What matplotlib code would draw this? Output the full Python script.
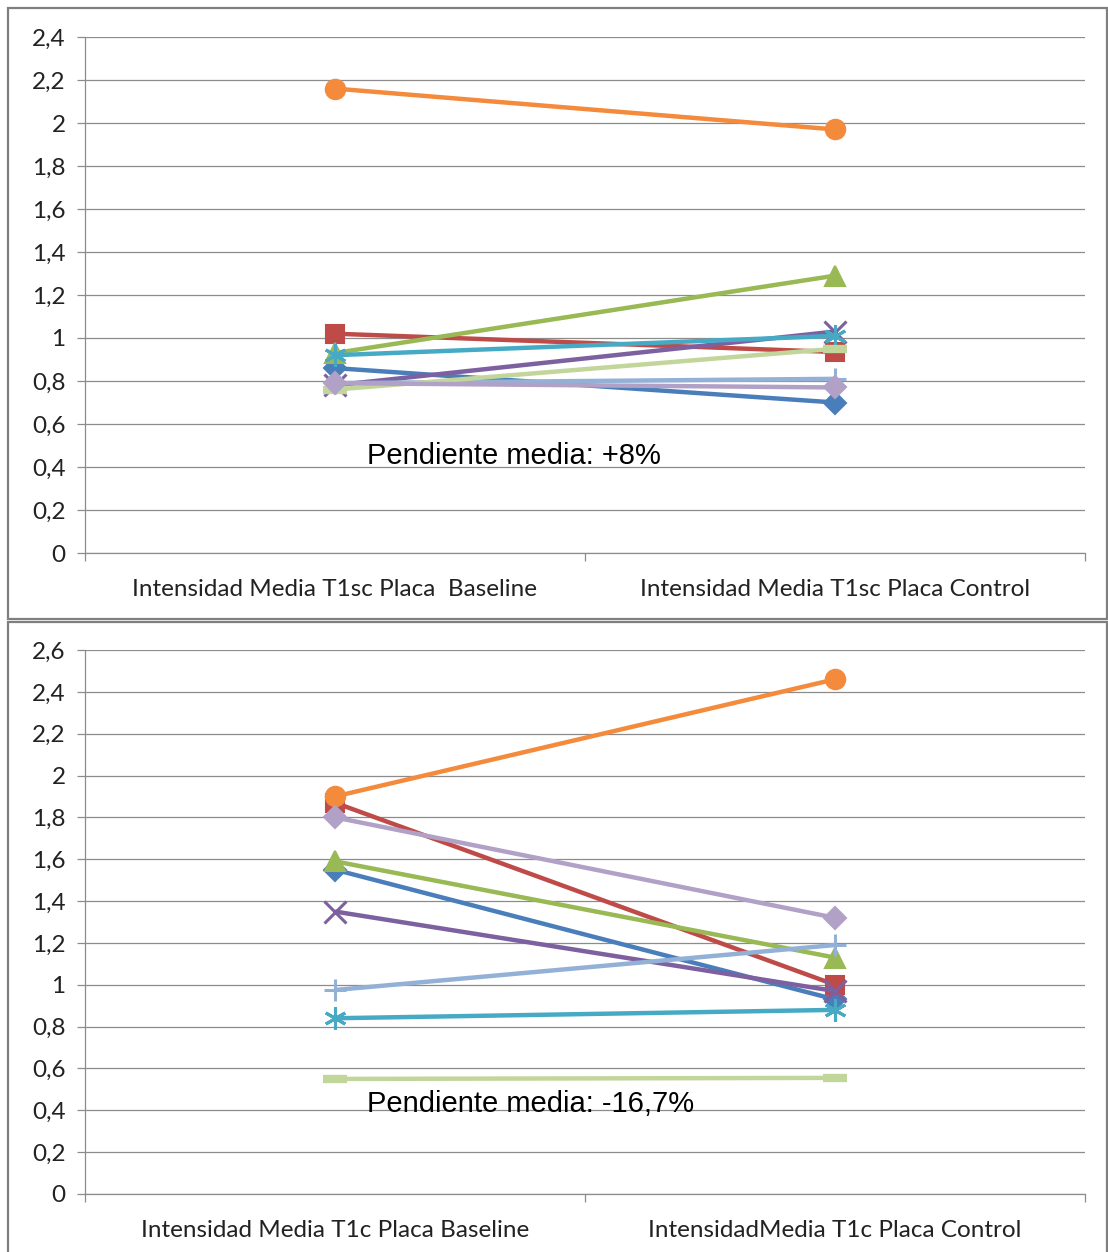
import matplotlib
matplotlib.use("Agg")
import matplotlib.pyplot as plt
from matplotlib.patches import Rectangle
from matplotlib.ticker import FuncFormatter, FixedLocator, MultipleLocator

# Series styling (Excel-like palette and marker sequence)
series_colors = ["#4A7EBB", "#BE4B48", "#98B954", "#7D60A0", "#46AAC5",
                 "#F38A3C", "#93B1D6", "#C2D59A", "#B2A1C7"]
series_markers = ["D", "s", "^", "x", (6, 2, 0), "o", "+", "_", "D"]

# Top chart: T1sc
top_categories = ["Intensidad Media T1sc Placa  Baseline", "Intensidad Media T1sc Placa Control"]
top_baseline = [0.86, 1.02, 0.93, 0.78, 0.92, 2.16, 0.79, 0.76, 0.79]
top_control = [0.70, 0.935, 1.29, 1.03, 1.01, 1.97, 0.81, 0.95, 0.77]
top_note = "Pendiente media: +8%"

# Bottom chart: T1c
bot_categories = ["Intensidad Media T1c Placa Baseline", "IntensidadMedia T1c Placa Control"]
bot_baseline = [1.55, 1.87, 1.59, 1.35, 0.84, 1.90, 0.975, 0.55, 1.80]
bot_control = [0.93, 1.00, 1.13, 0.97, 0.88, 2.46, 1.19, 0.555, 1.32]
bot_note = "Pendiente media: -16,7%"

W, H = 1108, 1252
fig = plt.figure(figsize=(W / 100, H / 100), dpi=100)
fig.patch.set_facecolor("white")

tick_font = "Lato"
grid_color = "#8C8C8C"


def comma_fmt(v, pos):
    s = ("%.1f" % v).rstrip("0").rstrip(".")
    return s.replace(".", ",")


def draw_panel(rect, cats, base, ctrl, ymax, note, note_y):
    ax = fig.add_axes(rect)
    ax.set_xlim(-0.5, 1.5)
    ax.set_ylim(0, ymax)
    for i in range(len(base)):
        mk = series_markers[i]
        ms = 14
        mew = 1.5
        if mk in ("x", "+") or isinstance(mk, tuple):
            ms = 16
            mew = 2.2
        if mk == "_":
            ms = 17
            mew = 6
        if mk == "D":
            ms = 11
        if mk == "s":
            ms = 13
        ax.plot([0, 1], [base[i], ctrl[i]], color=series_colors[i], lw=3.2,
                marker=mk, markersize=ms, markeredgewidth=mew,
                markerfacecolor=series_colors[i], markeredgecolor=series_colors[i],
                solid_capstyle="butt", zorder=3 + i * 0.01)
    ax.yaxis.set_major_locator(MultipleLocator(0.2))
    ax.yaxis.set_major_formatter(FuncFormatter(comma_fmt))
    ax.grid(axis="y", color=grid_color, lw=0.9)
    ax.set_axisbelow(True)
    for s in ["top", "right"]:
        ax.spines[s].set_visible(False)
    for s in ["left", "bottom"]:
        ax.spines[s].set_color(grid_color)
        ax.spines[s].set_linewidth(0.9)
    ax.set_xticks([0, 1])
    ax.set_xticklabels(cats, fontsize=17.5, family=tick_font, color="#222222")
    ax.xaxis.set_minor_locator(FixedLocator([-0.5, 0.5, 1.5]))
    ax.tick_params(axis="x", which="major", length=0, pad=19)
    ax.tick_params(axis="x", which="minor", length=6, color=grid_color, width=0.9)
    ax.tick_params(axis="y", length=6, color=grid_color, width=0.9,
                   labelsize=17.5, labelcolor="#222222", pad=8)
    for lab in ax.get_yticklabels():
        lab.set_family(tick_font)
    ax.text(0.064, note_y, note, fontsize=21, family="Liberation Sans",
            ha="left", va="center", color="black", zorder=10)
    return ax


draw_panel([85 / W, 1 - 553 / H, 1000 / W, 516 / H],
           top_categories, top_baseline, top_control, 2.4, top_note, 0.45)
draw_panel([85 / W, 1 - 1194 / H, 1000 / W, 544 / H],
           bot_categories, bot_baseline, bot_control, 2.6, bot_note, 0.43)

# Frame around each chart
border = "#7F7F7F"
fig.add_artist(Rectangle((8 / W, 1 - 619 / H), (W - 9) / W, 611 / H,
                         transform=fig.transFigure, fill=False,
                         edgecolor=border, lw=1.6))
fig.add_artist(Rectangle((8 / W, -0.01), (W - 9) / W, (1 - 622 / H) + 0.01,
                         transform=fig.transFigure, fill=False,
                         edgecolor=border, lw=1.6))

fig.savefig("out.png", dpi=100, facecolor="white")
